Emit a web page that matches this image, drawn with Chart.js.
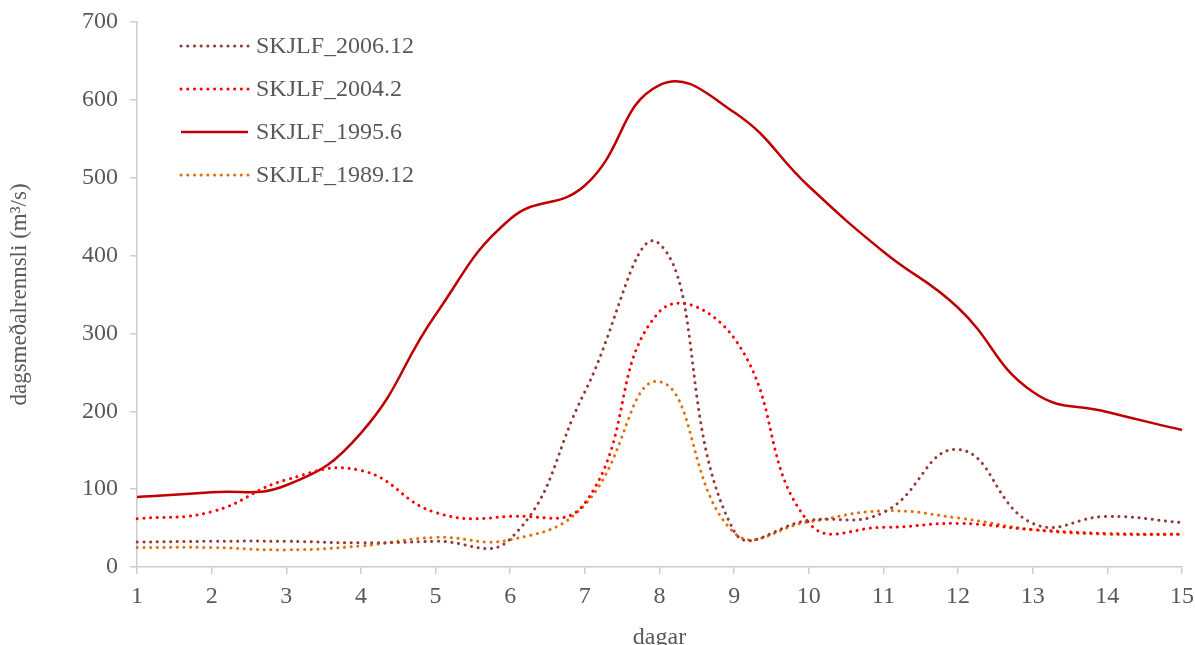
<!DOCTYPE html>
<html>
<head>
<meta charset="utf-8">
<script src="https://cdn.jsdelivr.net/npm/chart.js@4"></script>
<style>
  html, body { margin: 0; padding: 0; background: #fff; }
  #wrap { width: 1195px; height: 645px; }
</style>
</head>
<body>
<div id="wrap"><canvas id="flowChart" width="1195" height="645"></canvas></div>
<script>
const days = [1, 2, 3, 4, 5, 6, 7, 8, 9, 10, 11, 12, 13, 14, 15];
const skjlf2006 = [32, 33, 33, 31, 33, 36, 225, 415, 46, 60, 70, 151, 56, 65, 57];
const skjlf2004 = [62, 71, 112, 124, 70, 65, 82, 328, 294, 57, 51, 56, 48, 43, 42];
const skjlf1995 = [90, 96, 105, 172, 324, 447, 490, 619, 584, 489, 405, 333, 225, 199, 176];
const skjlf1989 = [25, 25, 22, 27, 38, 35, 80, 238, 44, 58, 72, 63, 48, 42, 42];
const yTicks = [0, 100, 200, 300, 400, 500, 600, 700];

const seriesNames = ['SKJLF_2006.12', 'SKJLF_2004.2', 'SKJLF_1995.6', 'SKJLF_1989.12'];
const seriesColors = ['#953735', '#FF0000', '#C00000', '#E46C0A'];
const dotted = [0.1, 6.6];

const axisGray = '#CCCCCC';
const textGray = '#595959';
const serif = '"Liberation Serif", "Times New Roman", serif';

// legend drawn inside the plot, top left
const insideLegend = {
    id: 'insideLegend',
    afterDraw(chart) {
        const ctx = chart.ctx;
        ctx.save();
        chart.data.datasets.forEach((ds, i) => {
            const y = 46 + i * 43;
            ctx.beginPath();
            ctx.strokeStyle = ds.borderColor;
            ctx.lineWidth = ds.borderWidth;
            ctx.lineCap = ds.borderDash.length ? 'round' : 'butt';
            ctx.setLineDash(ds.borderDash);
            ctx.moveTo(181, y);
            ctx.lineTo(248, y);
            ctx.stroke();
            ctx.setLineDash([]);
            ctx.fillStyle = textGray;
            ctx.font = '24px ' + serif;
            ctx.textBaseline = 'middle';
            ctx.fillText(ds.label, 256, y + 1);
        });
        ctx.restore();
    }
};

const makeSet = (i, values, dash) => ({
    label: seriesNames[i],
    data: values,
    borderColor: seriesColors[i],
    backgroundColor: seriesColors[i],
    borderWidth: dash.length ? 3 : 2.5,
    borderDash: dash,
    borderCapStyle: dash.length ? 'round' : 'butt',
    pointRadius: 0,
    tension: 0.45,
    fill: false
});

new Chart(document.getElementById('flowChart'), {
    type: 'line',
    data: {
        labels: days,
        datasets: [
            makeSet(0, skjlf2006, dotted),
            makeSet(1, skjlf2004, dotted),
            makeSet(2, skjlf1995, []),
            makeSet(3, skjlf1989, dotted)
        ]
    },
    options: {
        responsive: false,
        animation: false,
        layout: { padding: { top: 22, right: 13, left: 0, bottom: 0 } },
        plugins: { legend: { display: false }, tooltip: { enabled: false } },
        scales: {
            x: {
                offset: false,
                grid: { display: true, drawOnChartArea: false, tickLength: 7, color: axisGray, lineWidth: 1.5 },
                border: { display: true, color: axisGray, width: 1.5 },
                ticks: { color: textGray, font: { family: serif, size: 24 }, padding: 8, maxRotation: 0, autoSkip: false },
                title: { display: true, text: 'dagar', color: textGray, font: { family: serif, size: 24 }, padding: { top: 0, bottom: -7 } },
                afterFit: s => { s.height = 78; s.paddingLeft = 0; s.paddingRight = 0; }
            },
            y: {
                min: 0,
                max: 700,
                afterBuildTicks: s => { s.ticks = yTicks.map(v => ({ value: v })); },
                grid: { display: true, drawOnChartArea: false, tickLength: 7, color: axisGray, lineWidth: 1.5 },
                border: { display: true, color: axisGray, width: 1.5 },
                ticks: { color: textGray, font: { family: serif, size: 24 }, padding: 12 },
                title: { display: true, text: 'dagsmeðalrennsli (m³/s)', color: textGray, font: { family: serif, size: 23 }, padding: { top: 6, bottom: 0 } },
                afterFit: s => { s.width = 137; s.paddingTop = 0; s.paddingBottom = 0; }
            }
        }
    },
    plugins: [insideLegend]
});
</script>
</body>
</html>
